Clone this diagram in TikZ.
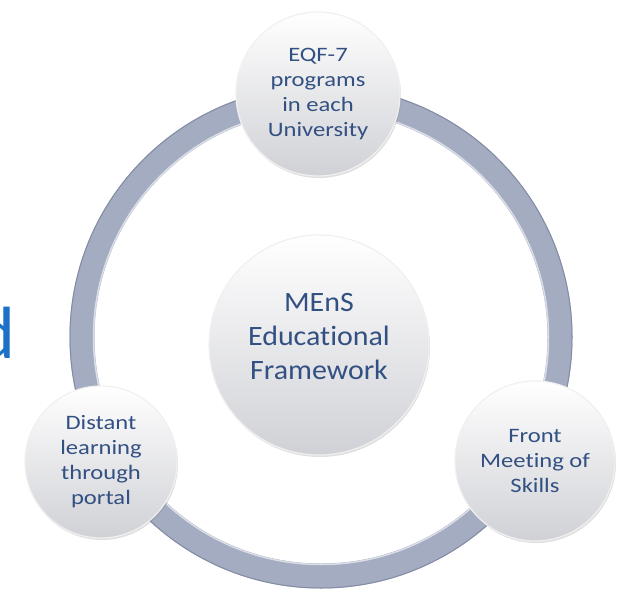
\documentclass[tikz,border=0pt]{standalone}
\usepackage{fontspec}
\setmainfont{Carlito}[Ligatures={NoCommon}]
\newfontfamily\ballfont{Carlito}[FakeStretch=1.2, Ligatures={NoCommon}]
\newfontfamily\hubfont{Carlito}[FakeStretch=1.07, Ligatures={NoCommon}]
\usetikzlibrary{shadows}
\definecolor{ringgray}{RGB}{164,172,194}
\definecolor{ringdark}{RGB}{132,140,164}
\definecolor{textblue}{RGB}{50,80,130}
\definecolor{titleblue}{RGB}{28,112,200}
\definecolor{ballgray}{RGB}{208,209,214}

\tikzset{
  ball/.style={circle, draw=white!88!gray, line width=1.2pt, top color=white,
    bottom color=ballgray, text=textblue, align=center, inner sep=0pt,
    drop shadow={opacity=0.25, shadow xshift=1pt, shadow yshift=-2pt}},
  smalltext/.style={font=\ballfont\fontsize{20.5}{25}\selectfont},
  bigtext/.style={font=\hubfont\fontsize{28}{34}\selectfont}
}

\begin{document}
\begin{tikzpicture}[x=1pt, y=-1pt]
  \def\rx{321}
  \def\ry{337}
  \def\rr{239}

  % Fixed bounding box
  \path[use as bounding box] (0,0) rectangle (623,593);
  \clip (0,0) rectangle (623,593);

  % Cut-off word at the left edge
  \node[anchor=base east, inner sep=0pt, text=titleblue,
    font=\fontsize{74}{74}\selectfont] (cutword) at (16,358) {d};

  % Ring
  \draw[ringgray, line width=25pt] (\rx,\ry) circle [radius=\rr];
  \draw[ringdark, line width=1pt] (\rx,\ry) circle [radius=\rr+12];
  \draw[white!60!ringgray, line width=1.5pt] (\rx,\ry) circle [radius=\rr-11.5];

  % Balls on the ring
  \node[ball, smalltext, minimum size=164pt] (eqf) at (318,94)
    {EQF-7\\programs\\in each\\University};
  \node[ball, smalltext, minimum size=152pt] (portal) at (101,462)
    {Distant\\learning\\through\\portal};
  \node[ball, smalltext, minimum size=160pt] (skills) at (535,461)
    {Front\\Meeting of\\Skills};

  % Centre ball
  \node[ball, bigtext, minimum size=220pt] (edu) at (319,345) {};
  \node[bigtext, text=textblue, align=center] (edutext) at (319,337)
    {MEnS\\Educational\\Framework};

\end{tikzpicture}
\end{document}
